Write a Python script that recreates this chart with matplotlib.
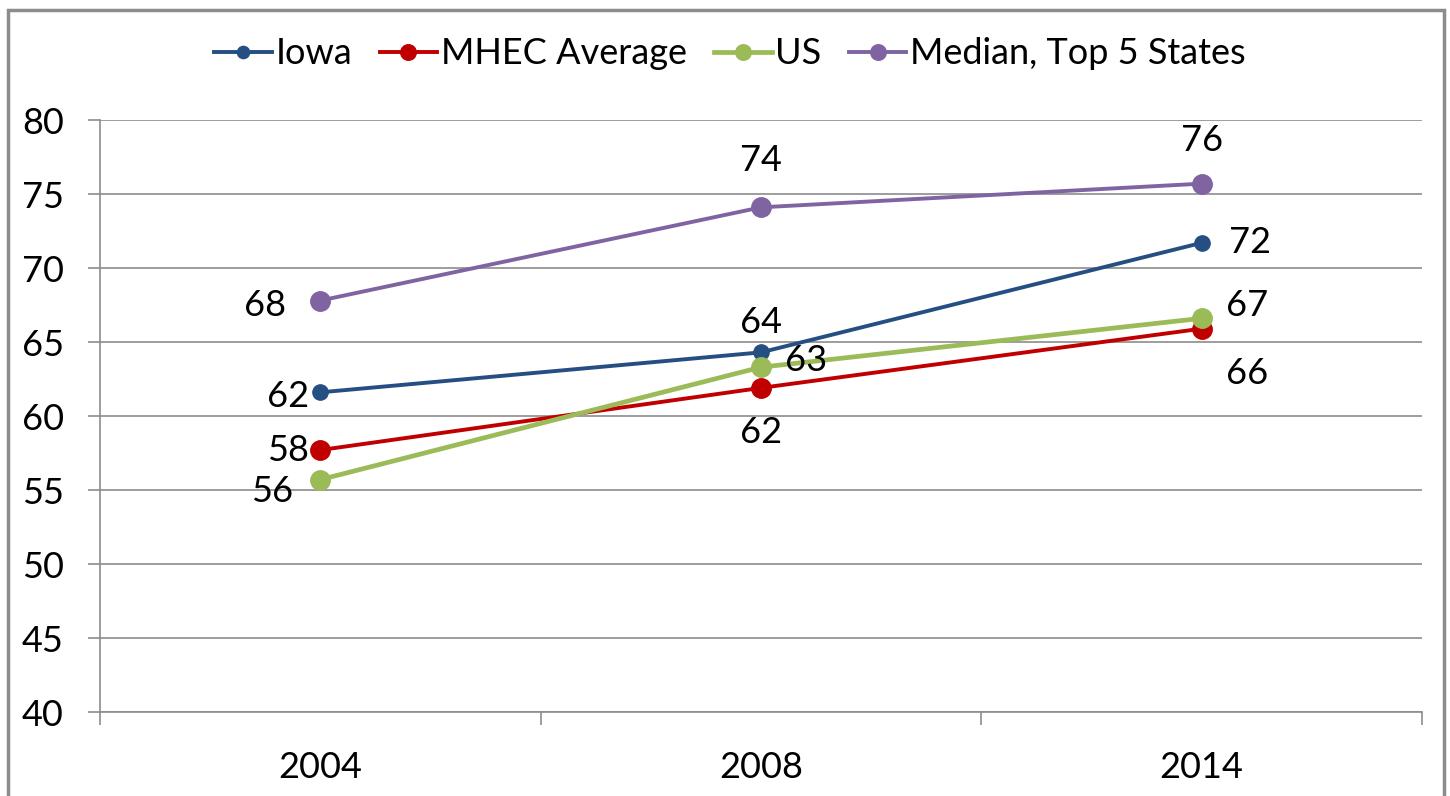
import matplotlib.pyplot as plt
import matplotlib.patches as mpatches
from matplotlib import rcParams
rcParams['font.family'] = ['Lato', 'DejaVu Sans']

years = ['2004', '2008', '2014']
iowa = [61.6, 64.3, 71.7]
mhec = [57.7, 61.9, 65.9]
us = [55.7, 63.3, 66.6]
median = [67.8, 74.1, 75.7]

iowa_lbl = ['62', '64', '72']
mhec_lbl = ['58', '62', '66']
us_lbl = ['56', '63', '67']
median_lbl = ['68', '74', '76']

fig = plt.figure(figsize=(14.5, 7.96), dpi=100)
ax = fig.add_axes([100/1450, 1-712/796, 1322/1450, 592/796])

x = range(len(years))
fs = 26
lw = 2.8
ax.plot(x, iowa, color='#254E82', lw=lw, marker='o', ms=11, label='Iowa', zorder=4)
ax.plot(x, mhec, color='#C00000', lw=lw, marker='o', ms=14, label='MHEC Average', zorder=3)
ax.plot(x, us, color='#9BBB59', lw=lw + 0.6, marker='o', ms=14, label='US', zorder=5)
ax.plot(x, median, color='#8064A2', lw=lw, marker='o', ms=14, label='Median, Top 5 States', zorder=3)

# label offsets in pixels, hand placed like the original
offs = {
    'iowa': [(-32, -4), (0, 30), (48, 0)],
    'mhec': [(-32, 0), (0, -45), (45, -45)],
    'us': [(-48, -12), (45, 7), (45, 13)],
    'median': [(-55, -5), (0, 47), (0, 43)],
}
series = {'iowa': (iowa, iowa_lbl), 'mhec': (mhec, mhec_lbl),
          'us': (us, us_lbl), 'median': (median, median_lbl)}
for k, (vals, lbls) in series.items():
    for i in range(len(vals)):
        ax.annotate(lbls[i], (i, vals[i]), xytext=offs[k][i], textcoords='offset pixels',
                    ha='center', va='center', fontsize=fs, zorder=6)

ax.set_xlim(-0.5, 2.5)
ax.set_ylim(40, 80)
ax.set_yticks(range(40, 81, 5))
ax.set_xticks(x)
ax.set_xticklabels(years)
ax.set_xticks([-0.5, 0.5, 1.5, 2.5], minor=True)
ax.tick_params(axis='x', which='major', length=0, labelsize=fs, pad=28)
ax.tick_params(axis='x', which='minor', length=9, width=1.2, color='#8c8c8c')
ax.tick_params(axis='y', length=9, width=1.2, color='#8c8c8c', labelsize=fs, pad=17)
ax.grid(axis='y', color='#8c8c8c', lw=1.2)
ax.set_axisbelow(True)
for s in ['top', 'right']:
    ax.spines[s].set_visible(False)
for s in ['left', 'bottom']:
    ax.spines[s].set_color('#8c8c8c')
    ax.spines[s].set_linewidth(1.2)

fig.legend(loc='center', bbox_to_anchor=(730/1450, 1-54/796), ncol=4, frameon=False,
           fontsize=fs, handlelength=1.6, handletextpad=0.1, columnspacing=0.75, markerscale=0.8)

border = mpatches.Rectangle((8/1450, -0.05), 1436/1450, 1.05-10/796, transform=fig.transFigure,
                            fill=False, edgecolor='#8c8c8c', lw=2.5)
fig.patches.append(border)

plt.savefig('out.png', dpi=100)
